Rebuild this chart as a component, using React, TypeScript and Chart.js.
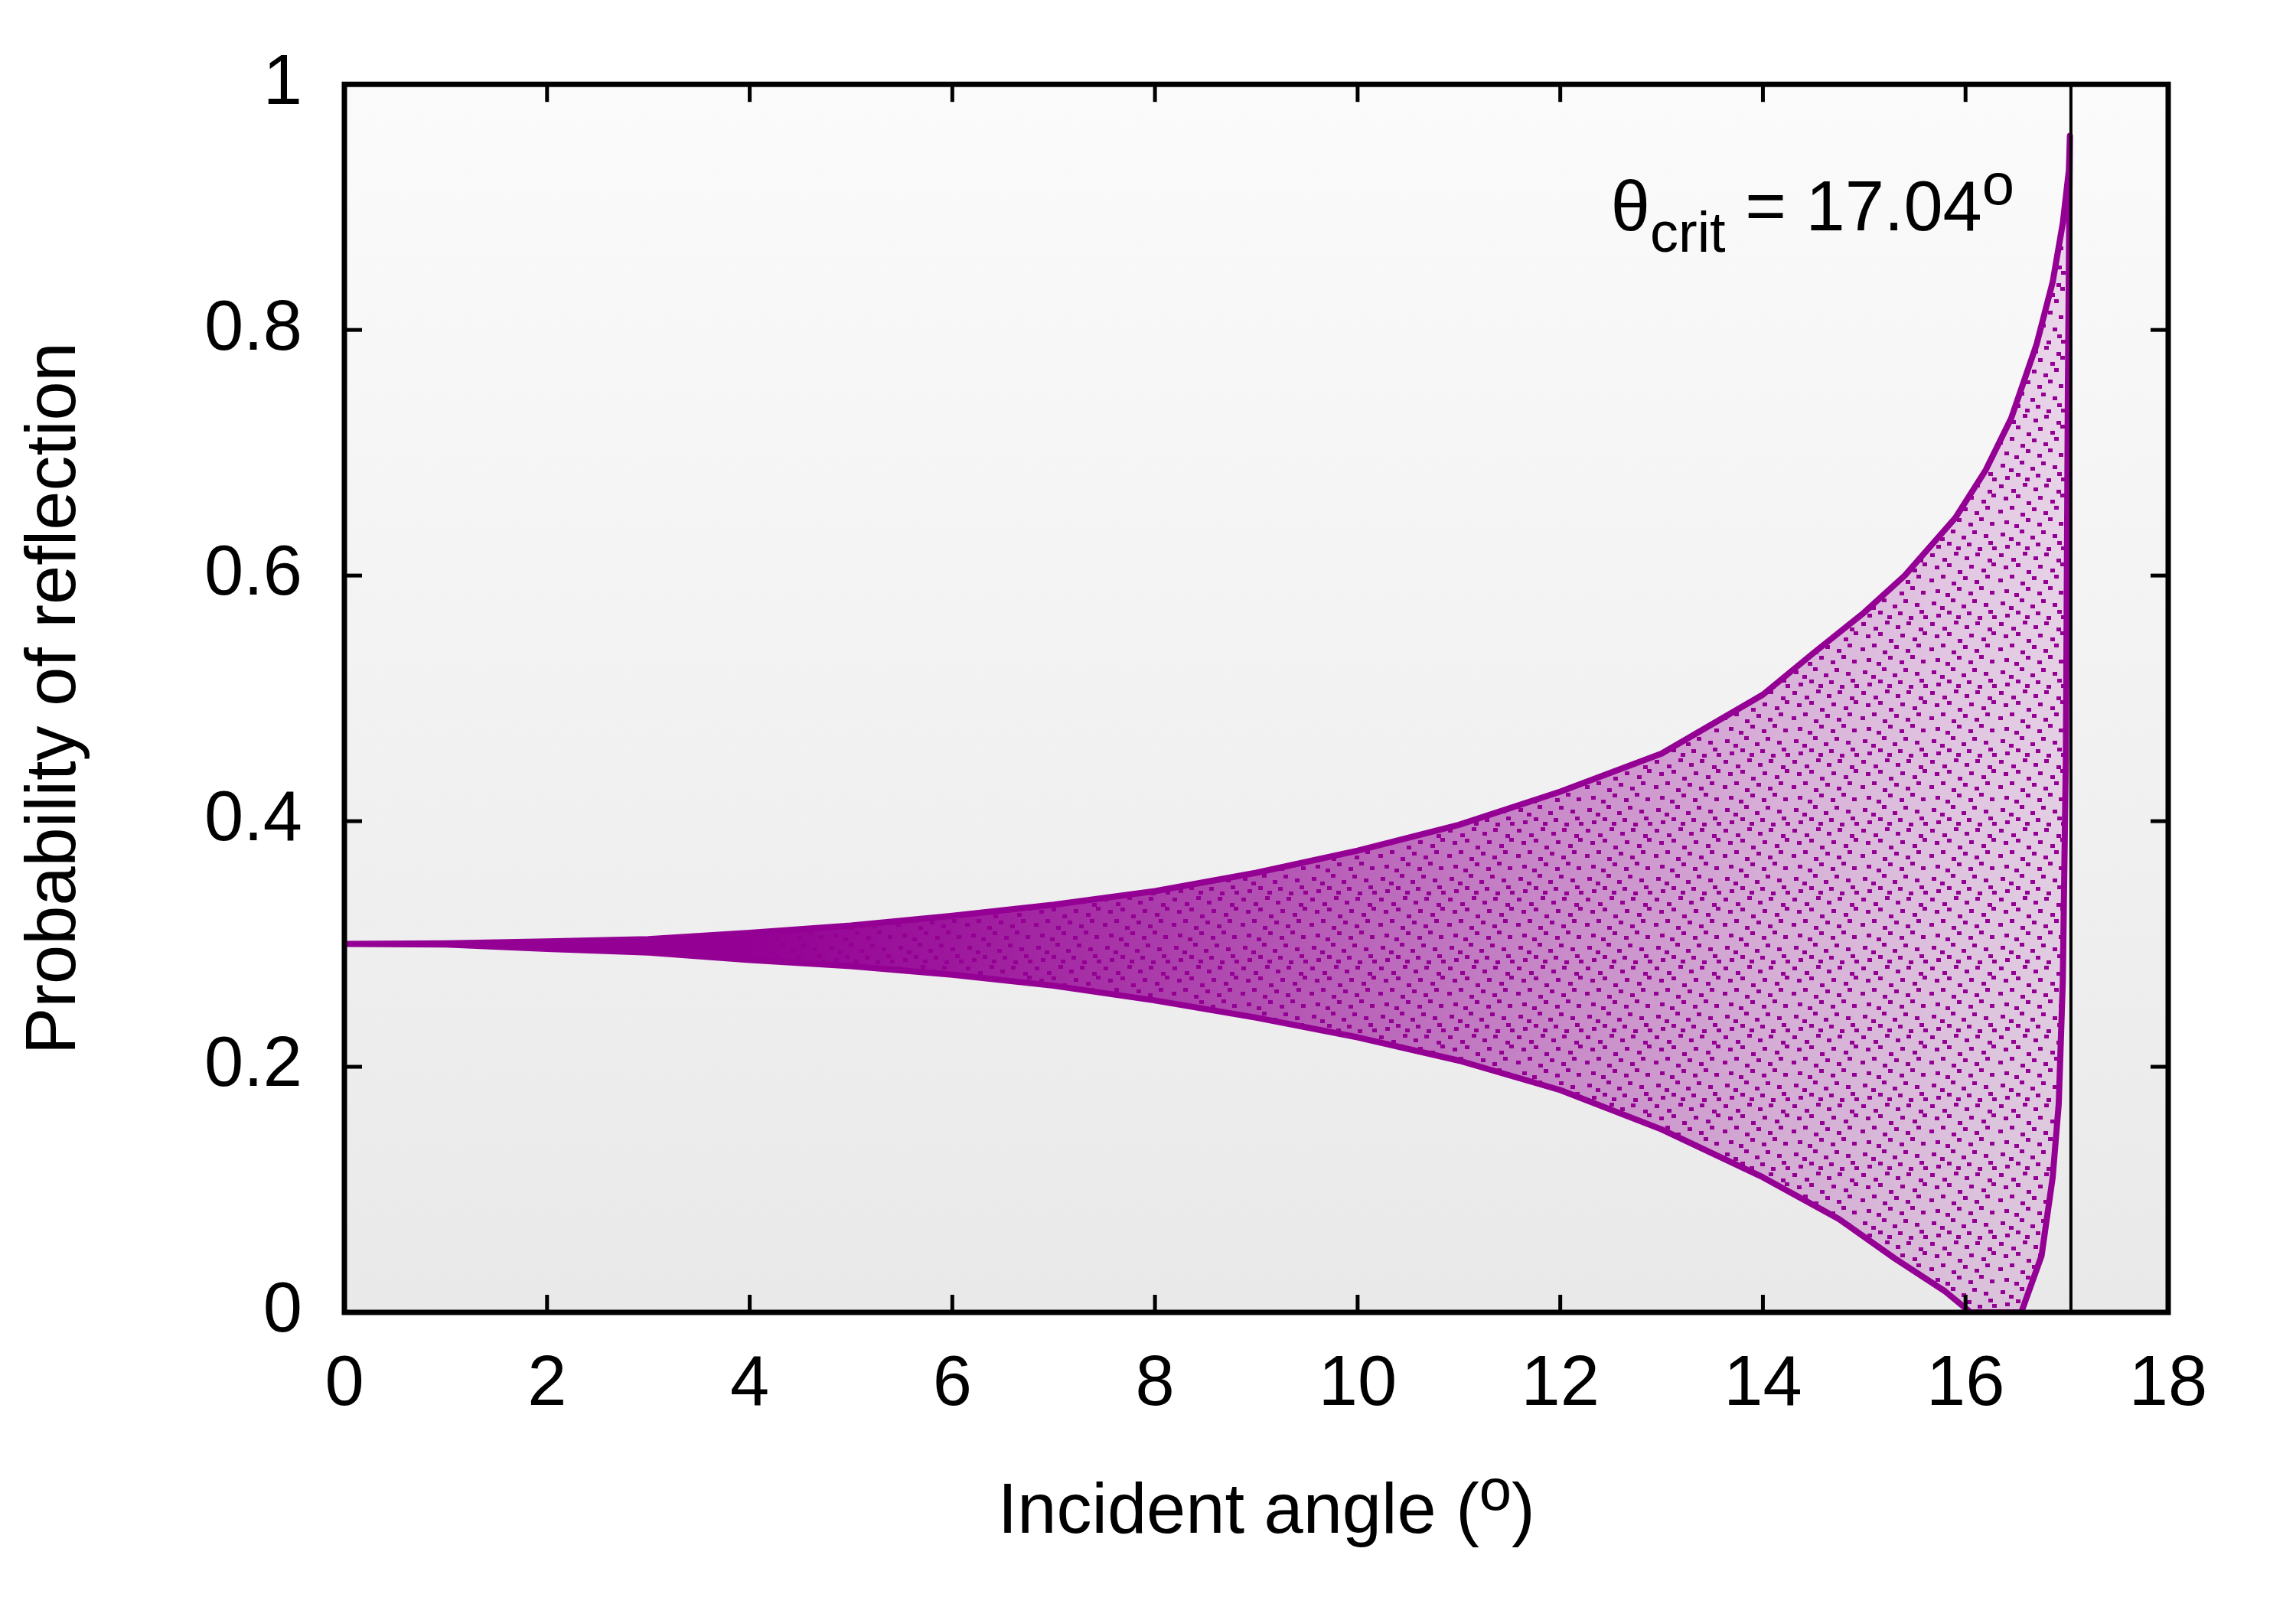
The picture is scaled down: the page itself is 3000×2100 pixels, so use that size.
import { useEffect, useRef } from 'react'
import Chart from 'chart.js/auto'

const FONT = "'Liberation Sans', Arial, Helvetica, sans-serif"
const PURPLE = '#940094'

const xTicks = [0, 2, 4, 6, 8, 10, 12, 14, 16, 18]
const yTicks = [0, 0.2, 0.4, 0.6, 0.8, 1]

// outer edges of the cloud of simulated points
const upperX = [0, 1, 2, 3, 4, 5, 6, 7, 8, 9, 10, 11, 12, 13, 14, 14.5, 15, 15.4, 15.9, 16.2, 16.45, 16.7, 16.86, 16.96, 17.02, 17.03]
const upperY = [0.3, 0.3005, 0.302, 0.304, 0.309, 0.315, 0.323, 0.332, 0.343, 0.358, 0.376, 0.397, 0.424, 0.455, 0.503, 0.537, 0.57, 0.6, 0.647, 0.686, 0.728, 0.788, 0.839, 0.887, 0.93, 0.958]
const lowerX = [0, 1, 2, 3, 4, 5, 6, 7, 8, 9, 10, 11, 12, 13, 14, 14.75, 15.3, 15.8, 16.05, 16.55, 16.75, 16.86, 16.92, 16.96, 16.99, 17.01, 17.03]
const lowerY = [0.3, 0.2995, 0.296, 0.293, 0.287, 0.282, 0.275, 0.266, 0.254, 0.24, 0.224, 0.205, 0.181, 0.149, 0.11, 0.076, 0.044, 0.017, 0, 0, 0.046, 0.11, 0.17, 0.27, 0.45, 0.75, 0.958]

const critAngle = 17.04
const critLabel = { x: 12.5, y: 0.881 }

const xTitle = 'Incident angle ('
const yTitle = 'Probability of reflection'

type Piece = { text: string; size: number; dy: number }

function drawPieces(ctx: CanvasRenderingContext2D, x: number, y: number, pieces: Piece[], center = false) {
  ctx.textBaseline = 'alphabetic'
  ctx.textAlign = 'left'
  const widths = pieces.map(p => {
    ctx.font = `${p.size}px ${FONT}`
    return ctx.measureText(p.text).width
  })
  let cx = center ? x - widths.reduce((s, w) => s + w, 0) / 2 : x
  pieces.forEach((p, i) => {
    ctx.font = `${p.size}px ${FONT}`
    ctx.fillText(p.text, cx, y + p.dy)
    cx += widths[i]
  })
}

// speckle texture so the cloud reads as loose dots rather than a flat wash
function dotPattern() {
  const tile = document.createElement('canvas')
  tile.width = 90
  tile.height = 90
  const t = tile.getContext('2d')!
  t.fillStyle = PURPLE
  const spots = [
    [2, 3], [18, 9], [33, 1], [47, 7], [61, 2], [77, 10],
    [8, 19], [24, 16], [38, 25], [53, 18], [69, 23], [82, 15],
    [1, 36], [16, 31], [30, 40], [45, 33], [60, 38], [74, 31],
    [9, 50], [22, 55], [37, 47], [52, 53], [66, 46], [80, 52],
    [4, 66], [29, 62], [43, 70], [57, 63], [72, 68], [15, 72],
    [10, 82], [24, 78], [36, 84], [50, 79], [64, 85], [78, 77], [83, 84],
  ]
  spots.forEach(([x, y]) => t.fillRect(x, y, 6, 5))
  return t.createPattern(tile, 'repeat')!
}

const frame = {
  id: 'frame',
  beforeDraw(chart: any) {
    const { ctx, chartArea: a } = chart
    ctx.save()
    const g = ctx.createLinearGradient(0, a.top, 0, a.bottom)
    g.addColorStop(0, '#fbfbfb')
    g.addColorStop(1, '#e9e9e9')
    ctx.fillStyle = g
    ctx.fillRect(a.left, a.top, a.right - a.left, a.bottom - a.top)
    ctx.restore()
  },
  afterDraw(chart: any) {
    const { ctx, chartArea: a, scales } = chart
    const seg = (x1: number, y1: number, x2: number, y2: number) => {
      ctx.beginPath()
      ctx.moveTo(x1, y1)
      ctx.lineTo(x2, y2)
      ctx.stroke()
    }
    ctx.save()
    ctx.strokeStyle = '#000'
    ctx.lineWidth = 5
    xTicks.forEach(v => {
      const px = scales.x.getPixelForValue(v)
      seg(px, a.bottom, px, a.bottom - 23)
      seg(px, a.top, px, a.top + 23)
    })
    yTicks.forEach(v => {
      const py = scales.y.getPixelForValue(v)
      seg(a.left, py, a.left + 23, py)
      seg(a.right, py, a.right - 23, py)
    })
    ctx.lineWidth = 7
    ctx.strokeRect(a.left, a.top, a.right - a.left, a.bottom - a.top)

    ctx.fillStyle = '#000'
    drawPieces(ctx, scales.x.getPixelForValue(critLabel.x), scales.y.getPixelForValue(critLabel.y), [
      { text: 'θ', size: 92, dy: 0 },
      { text: 'crit', size: 74, dy: 28 },
      { text: ' = ' + critAngle.toFixed(2), size: 92, dy: 0 },
      { text: 'o', size: 76, dy: -34 },
    ])
    drawPieces(ctx, scales.x.getPixelForValue(9.1), a.bottom + 288, [
      { text: xTitle, size: 92, dy: 0 },
      { text: 'o', size: 76, dy: -30 },
      { text: ')', size: 92, dy: 0 },
    ], true)
    ctx.restore()
  },
}

export default function App() {
  const canvasRef = useRef<HTMLCanvasElement>(null)
  const chartRef = useRef<any>(null)

  useEffect(() => {
    document.body.style.margin = '0'
    if (!canvasRef.current) return

    const cloud = [
      ...upperX.map((x, i) => ({ x, y: upperY[i] })),
      ...lowerX.map((x, i) => ({ x, y: lowerY[i] })).reverse(),
    ]

    const density = (c: any) => {
      const chart = c.chart
      const xs = chart.scales?.x
      if (!chart.chartArea || !xs) return 'rgba(148,0,148,0.5)'
      const x0 = xs.getPixelForValue(0)
      const x1 = xs.getPixelForValue(17)
      const g = chart.ctx.createLinearGradient(x0, 0, x1, 0)
      const stops: [number, number][] = [[0, 1], [4, 1], [6, 0.9], [8, 0.75], [10, 0.58], [12, 0.42], [14, 0.28], [16, 0.18], [17, 0.14]]
      stops.forEach(([v, alpha]) => g.addColorStop(v / 17, `rgba(148,0,148,${alpha})`))
      return g
    }

    if (chartRef.current) chartRef.current.destroy()

    chartRef.current = new Chart(canvasRef.current, {
      type: 'scatter',
      data: {
        datasets: [
          {
            data: [{ x: critAngle, y: 0 }, { x: critAngle, y: 1 }],
            showLine: true,
            borderColor: '#000',
            borderWidth: 4,
            pointRadius: 0,
            order: 0,
          },
          {
            data: cloud,
            showLine: true,
            fill: 'shape',
            backgroundColor: dotPattern(),
            borderWidth: 0,
            pointRadius: 0,
            order: 1,
          },
          {
            data: cloud,
            showLine: true,
            fill: 'shape',
            backgroundColor: density,
            borderColor: PURPLE,
            borderWidth: 8,
            borderJoinStyle: 'round',
            pointRadius: 0,
            order: 2,
          },
        ],
      },
      options: {
        animation: false,
        responsive: false,
        devicePixelRatio: 1,
        layout: { padding: { top: 110, right: 167, left: 0, bottom: 0 } },
        plugins: { legend: { display: false }, tooltip: { enabled: false } },
        scales: {
          x: {
            type: 'linear',
            min: 0,
            max: 18,
            afterBuildTicks: (s: any) => { s.ticks = xTicks.map(value => ({ value })) },
            afterFit: (s: any) => { s.height = 385 },
            grid: { display: false, drawTicks: false },
            border: { display: false },
            ticks: { font: { family: FONT, size: 92 }, color: '#000', padding: 40, maxRotation: 0, autoSkip: false },
          },
          y: {
            type: 'linear',
            min: 0,
            max: 1,
            afterBuildTicks: (s: any) => { s.ticks = yTicks.map(value => ({ value })) },
            afterFit: (s: any) => { s.width = 450 },
            grid: { display: false, drawTicks: false },
            border: { display: false },
            ticks: {
              font: { family: FONT, size: 92 },
              color: '#000',
              padding: 55,
              callback: (v: string | number) => String(Number(Number(v).toFixed(1))),
            },
            title: { display: true, text: yTitle, font: { family: FONT, size: 92 }, color: '#000', padding: { top: 17, bottom: 0 } },
          },
        },
      },
      plugins: [frame],
    })

    return () => { if (chartRef.current) chartRef.current.destroy() }
  }, [])

  return (
    <div style={{ width: 3000, height: 2100 }}>
      <canvas ref={canvasRef} width={3000} height={2100} style={{ display: 'block' }} />
    </div>
  )
}
